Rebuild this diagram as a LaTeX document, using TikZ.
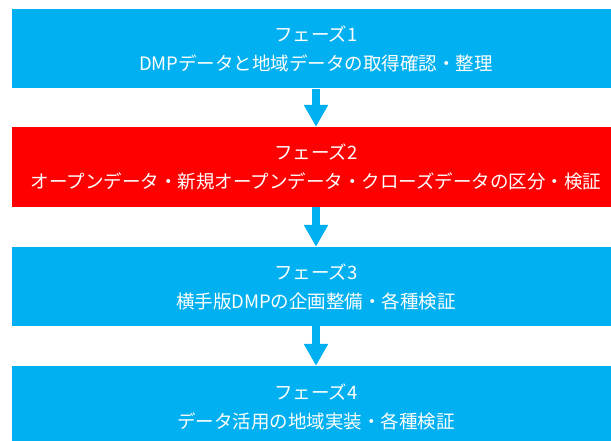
\documentclass[tikz,border=0pt]{standalone}
\usepackage{fontspec}
\setmainfont{Noto Sans CJK JP}
\usetikzlibrary{arrows.meta}
\definecolor{phblue}{HTML}{00B0F0}
\definecolor{phred}{HTML}{FF0000}
\begin{document}
\begin{tikzpicture}[x=1pt,y=-1pt,
  phase/.style={fill=#1, draw=none, minimum width=608pt, minimum height=79pt,
    inner sep=0pt, text=white, align=center,
    font=\fontsize{18.5pt}{29pt}\selectfont},
  flow/.style={draw=phblue, line width=8.5pt, -{Triangle[length=22pt,width=23pt]}}]
\useasboundingbox (0,0) rectangle (611,441);
\node[phase=phblue] (p1) at (316,49) {フェーズ1\\DMPデータと地域データの取得確認・整理};
\node[phase=phred, minimum height=80pt] (p2) at (316,167) {フェーズ2\\オープンデータ・新規オープンデータ・クローズデータの区分・検証};
\node[phase=phblue] (p3) at (316,286.5) {フェーズ3\\横手版DMPの企画整備・各種検証};
\node[phase=phblue, minimum height=81pt] (p4) at (316,406.5) {フェーズ4\\データ活用の地域実装・各種検証};
\draw[flow] (p1.south) -- (p2.north);
\draw[flow] (p2.south) -- (p3.north);
\draw[flow] (p3.south) -- (p4.north);
\end{tikzpicture}
\end{document}
